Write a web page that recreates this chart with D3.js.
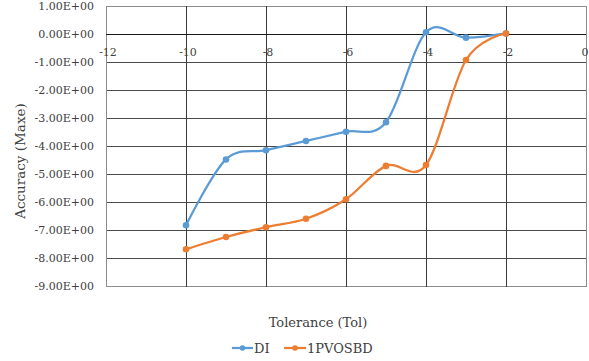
<!DOCTYPE html>
<html>
<head>
<meta charset="utf-8">
<script src="https://cdn.jsdelivr.net/npm/d3@7/dist/d3.min.js"></script>
<style>
  html, body { margin: 0; padding: 0; background: #fff; }
  svg { display: block; }
  text { font-family: "DejaVu Serif", "Liberation Serif", serif; fill: #404040; }
</style>
</head>
<body>
<svg id="chart" width="589" height="361"></svg>
<script>
// Tolerance values on the x axis
const tolerance = [-10, -9, -8, -7, -6, -5, -4, -3, -2];
// Accuracy (Maxe) for each method
const seriesDI = [-6.83, -4.48, -4.15, -3.82, -3.49, -3.15, 0.06, -0.13, 0.02];
const series1PVOSBD = [-7.69, -7.25, -6.90, -6.60, -5.90, -4.71, -4.68, -0.93, 0.02];
const seriesNames = ["DI", "1PVOSBD"];
const seriesColors = ["#5B9BD5", "#ED7D31"];
const xTicks = [-12, -10, -8, -6, -4, -2, 0];
const yTicks = [1, 0, -1, -2, -3, -4, -5, -6, -7, -8, -9];

(function () {
  const svg = d3.select("#chart");
  const plotLeft = 106, plotRight = 586, plotTop = 6, plotBottom = 286;

  const x = d3.scaleLinear().domain([-12, 0]).range([plotLeft, plotRight]);
  const y = d3.scaleLinear().domain([-9, 1]).range([plotBottom, plotTop]);

  const fmt = v => (v < 0 ? "-" : "") + Math.abs(v).toFixed(2) + "E+00";

  // horizontal gridlines
  svg.append("g")
    .selectAll("line")
    .data(yTicks)
    .join("line")
    .attr("x1", plotLeft).attr("x2", plotRight)
    .attr("y1", d => y(d) + 0.5).attr("y2", d => y(d) + 0.5)
    .attr("stroke", d => (d === 1 || d === -9) ? "#8c8c8c" : "#4a4a4a")
    .attr("stroke-width", 1);

  // vertical gridlines
  svg.append("g")
    .selectAll("line")
    .data(xTicks)
    .join("line")
    .attr("x1", d => x(d) + 0.5).attr("x2", d => x(d) + 0.5)
    .attr("y1", plotTop).attr("y2", plotBottom + 1)
    .attr("stroke", d => (d === -12 || d === 0) ? "#8c8c8c" : "#3a3a3a")
    .attr("stroke-width", 1);

  // y axis labels
  svg.append("g")
    .selectAll("text")
    .data(yTicks)
    .join("text")
    .attr("x", 94)
    .attr("y", d => y(d))
    .attr("dy", "0.35em")
    .attr("text-anchor", "end")
    .attr("font-size", 11)
    .text(fmt);

  // x axis along zero, with its labels below
  svg.append("line")
    .attr("x1", plotLeft).attr("x2", plotRight)
    .attr("y1", y(0) + 0.5).attr("y2", y(0) + 0.5)
    .attr("stroke", "#1a1a1a");

  svg.append("g")
    .selectAll("text")
    .data(xTicks)
    .join("text")
    .attr("x", d => x(d) + (d < 0 ? 2 : -1))
    .attr("y", y(0) + 18)
    .attr("dy", "0.35em")
    .attr("text-anchor", "middle")
    .attr("font-size", 11)
    .text(d => d);

  // axis titles
  svg.append("text")
    .attr("transform", "translate(20,161) rotate(-90)")
    .attr("text-anchor", "middle")
    .attr("dy", "0.35em")
    .attr("font-size", 13.5)
    .text("Accuracy (Maxe)");

  svg.append("text")
    .attr("x", 318).attr("y", 322)
    .attr("text-anchor", "middle")
    .attr("dy", "0.35em")
    .attr("font-size", 13)
    .text("Tolerance (Tol)");

  // smoothed series lines with markers
  const line = d3.line()
    .x(d => x(d[0]))
    .y(d => y(d[1]))
    .curve(d3.curveCardinal.tension(0));

  [seriesDI, series1PVOSBD].forEach((vals, i) => {
    const pts = tolerance.map((t, k) => [t, vals[k]]);
    const g = svg.append("g");
    g.append("path")
      .attr("d", line(pts))
      .attr("fill", "none")
      .attr("stroke", seriesColors[i])
      .attr("stroke-width", 2.25)
      .attr("stroke-linecap", "round");
    g.selectAll("circle")
      .data(pts)
      .join("circle")
      .attr("cx", d => x(d[0]))
      .attr("cy", d => y(d[1]))
      .attr("r", 3.3)
      .attr("fill", seriesColors[i]);
  });

  // legend
  const legendItems = [
    { name: seriesNames[0], color: seriesColors[0], x0: 232, x1: 253 },
    { name: seriesNames[1], color: seriesColors[1], x0: 284, x1: 306 }
  ];
  const ly = 348;
  legendItems.forEach(item => {
    svg.append("line")
      .attr("x1", item.x0).attr("x2", item.x1)
      .attr("y1", ly).attr("y2", ly)
      .attr("stroke", item.color).attr("stroke-width", 2.25);
    svg.append("circle")
      .attr("cx", (item.x0 + item.x1) / 2).attr("cy", ly)
      .attr("r", 2.8).attr("fill", item.color);
    svg.append("text")
      .attr("x", item.x1 + 1).attr("y", ly)
      .attr("dy", "0.35em")
      .attr("font-size", 13)
      .text(item.name);
  });
})();
</script>
</body>
</html>
